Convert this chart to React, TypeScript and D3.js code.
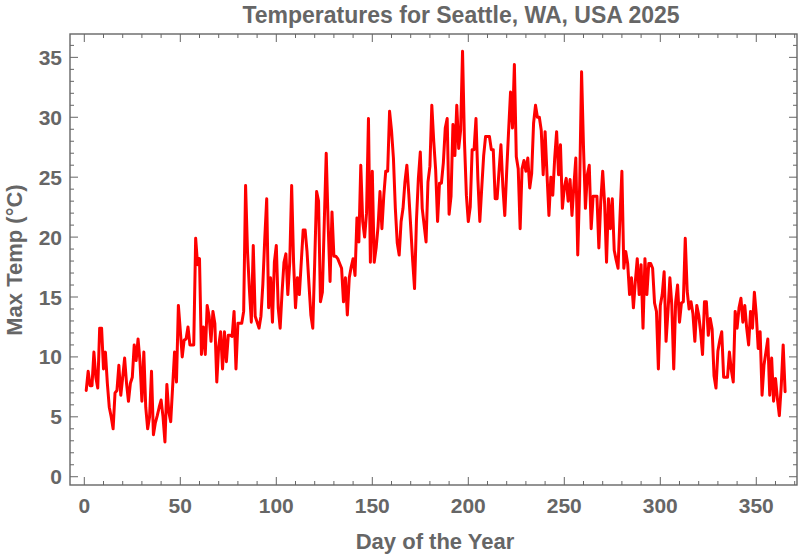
import React from "react";
import * as d3 from "d3";

const title = "Temperatures for Seattle, WA, USA 2025";
const xLabel = "Day of the Year";
const yLabel = "Max Temp (°C)";

const maxTemp: number[] = [
  7.2, 8.8, 7.6, 7.6, 10.4, 8.3, 7.4, 12.4, 12.4, 9.0,
  10.4, 7.8, 5.8, 5.0, 4.0, 7.0, 7.2, 9.3, 6.8, 8.3,
  9.9, 7.8, 6.3, 7.8, 8.3, 11.0, 9.7, 11.5, 9.6, 6.3,
  10.4, 5.8, 4.0, 5.0, 8.8, 3.5, 4.5, 5.1, 5.8, 6.4,
  5.0, 2.9, 7.7, 5.4, 4.6, 7.5, 10.4, 7.9, 14.3, 12.2,
  10.0, 11.4, 11.5, 12.5, 11.0, 11.0, 11.0, 19.9, 17.7, 18.2,
  10.2, 12.5, 10.2, 14.3, 13.4, 11.3, 13.8, 12.8, 7.9, 10.9,
  12.1, 9.0, 12.1, 9.6, 11.8, 11.8, 11.7, 13.8, 9.0, 12.8,
  12.8, 12.8, 13.8, 24.3, 18.8, 15.6, 12.9, 19.3, 13.4, 12.9,
  12.4, 13.4, 16.1, 19.9, 23.2, 14.1, 16.6, 12.9, 17.9, 19.3,
  14.1, 12.4, 15.4, 17.9, 18.6, 15.2, 17.9, 24.3, 17.9, 14.1,
  16.6, 15.2, 17.9, 20.6, 20.6, 18.8, 16.1, 13.5, 12.4, 17.9,
  23.8, 23.0, 14.6, 15.4, 21.3, 27.0, 21.1, 16.3, 22.1, 18.4,
  18.4, 18.2, 17.8, 17.4, 14.6, 16.6, 13.5, 16.6, 17.5, 18.2,
  16.8, 21.6, 19.6, 26.0, 21.3, 20.0, 22.0, 29.9, 17.9, 25.5,
  17.9, 19.1, 20.9, 23.8, 20.7, 23.5, 25.5, 25.5, 30.5, 28.9,
  26.6, 22.4, 19.5, 18.5, 21.3, 22.4, 24.6, 26.0, 23.6, 20.9,
  18.1, 15.7, 21.4, 24.9, 27.1, 22.4, 21.0, 19.6, 24.6, 25.9,
  31.0, 28.0, 25.6, 21.3, 24.5, 24.5, 26.2, 29.1, 29.9, 21.9,
  23.4, 29.4, 26.8, 31.0, 27.4, 28.9, 35.5, 28.0, 23.5, 21.3,
  22.5, 27.3, 27.3, 29.9, 24.8, 21.3, 24.1, 26.8, 28.4, 28.4,
  28.4, 27.3, 27.3, 23.2, 23.2, 25.5, 27.7, 24.2, 21.8, 25.5,
  28.9, 32.1, 29.1, 34.4, 26.7, 25.7, 20.7, 25.7, 26.4, 25.5,
  26.6, 24.1, 25.3, 29.5, 31.0, 30.0, 30.0, 28.9, 25.2, 28.8,
  25.2, 21.8, 25.0, 23.5, 26.6, 28.8, 25.2, 27.7, 22.4, 24.1,
  24.9, 23.0, 24.8, 21.8, 24.3, 26.6, 18.5, 24.3, 33.8, 27.5,
  22.4, 25.2, 26.0, 20.7, 23.4, 23.4, 23.4, 19.1, 23.0, 25.5,
  22.8, 17.9, 23.2, 20.7, 23.2, 18.9, 18.1, 17.4, 21.7, 25.5,
  17.4, 18.8, 17.8, 15.2, 16.6, 14.1, 16.3, 18.2, 15.2, 17.7,
  12.4, 18.2, 15.2, 17.8, 17.8, 17.4, 14.5, 13.8, 9.0, 14.3,
  15.2, 17.1, 11.3, 13.8, 16.6, 14.3, 9.0, 14.6, 16.0, 12.9,
  14.5, 14.6, 19.9, 15.5, 14.0, 14.6, 13.6, 11.3, 14.3, 13.5,
  12.1, 10.2, 14.6, 14.6, 11.8, 13.2, 12.3, 8.4, 7.4, 10.5,
  11.4, 12.1, 8.3, 8.3, 8.3, 10.4, 8.9, 7.9, 13.8, 12.4,
  14.1, 14.9, 12.9, 14.3, 12.4, 11.0, 13.8, 12.4, 15.4, 13.5,
  10.7, 12.1, 6.8, 9.3, 10.4, 11.5, 6.8, 9.9, 6.3, 8.2,
  6.5, 5.1, 7.6, 11.0, 7.1,
];

const days: number[] = maxTemp.map((_, i) => i + 1);

const xMajorTicks = [0, 50, 100, 150, 200, 250, 300, 350];
const yMajorTicks = [0, 5, 10, 15, 20, 25, 30, 35];

const W = 800;
const H = 555;
const L = 70, R = 797, T = 34, B = 485;
const GRAY = "#666666";
const FONT = "'Liberation Sans', Arial, Helvetica, sans-serif";

export default function App() {
  const x = d3.scaleLinear().domain([-7.45, 371.2]).range([L, R]);
  const y = d3.scaleLinear().domain([-0.69, 36.95]).range([B, T]);

  const line = d3
    .line<number>()
    .x((_, i) => x(days[i]))
    .y((d) => y(d));

  const xMinor = d3.range(-0, 371, 10).filter((v) => x(v) > L + 1 && x(v) < R - 1);
  const yMinor = d3.range(0, 37, 1).filter((v) => y(v) < B - 1 && y(v) > T + 1);

  return (
    <div style={{ position: "absolute", left: 0, top: 0 }}>
      <svg width={W} height={H} style={{ display: "block", background: "#fff" }}>
        <defs>
          <clipPath id="plotclip">
            <rect x={L} y={T} width={R - L} height={B - T} />
          </clipPath>
        </defs>
        <path
          d={line(maxTemp) || ""}
          fill="none"
          stroke="#ff0000"
          strokeWidth={3}
          strokeLinejoin="round"
          strokeLinecap="round"
          clipPath="url(#plotclip)"
        />
        {/* ticks */}
        <g stroke={GRAY} strokeWidth={1}>
          {xMinor.map((v) => {
            const len = v % 50 === 0 ? 8 : 4;
            return (
              <g key={"xt" + v}>
                <line x1={x(v)} x2={x(v)} y1={B} y2={B - len} />
                <line x1={x(v)} x2={x(v)} y1={T} y2={T + len} />
              </g>
            );
          })}
          {yMinor.map((v) => {
            const len = v % 5 === 0 ? 8 : 4;
            return (
              <g key={"yt" + v}>
                <line x1={L} x2={L + len} y1={y(v)} y2={y(v)} />
                <line x1={R} x2={R - len} y1={y(v)} y2={y(v)} />
              </g>
            );
          })}
        </g>
        <rect x={L} y={T} width={R - L} height={B - T} fill="none" stroke={GRAY} strokeWidth={1.4} />
        {/* tick labels */}
        <g fill={GRAY} fontFamily={FONT} fontWeight="bold" fontSize={21}>
          {xMajorTicks.map((v) => (
            <text key={"xl" + v} x={x(v)} y={513} textAnchor="middle">
              {v}
            </text>
          ))}
          {yMajorTicks.map((v) => (
            <text key={"yl" + v} x={62} y={y(v) + 7.5} textAnchor="end">
              {v}
            </text>
          ))}
        </g>
        <text x={461} y={23} textAnchor="middle" fill={GRAY} fontFamily={FONT} fontWeight="bold" fontSize={23}>
          {title}
        </text>
        <text x={435} y={549} textAnchor="middle" fill={GRAY} fontFamily={FONT} fontWeight="bold" fontSize={22}>
          {xLabel}
        </text>
        <text
          transform={`translate(21.5,260) rotate(-90)`}
          textAnchor="middle"
          fill={GRAY}
          fontFamily={FONT}
          fontWeight="bold"
          fontSize={22}
        >
          {yLabel}
        </text>
      </svg>
    </div>
  );
}
